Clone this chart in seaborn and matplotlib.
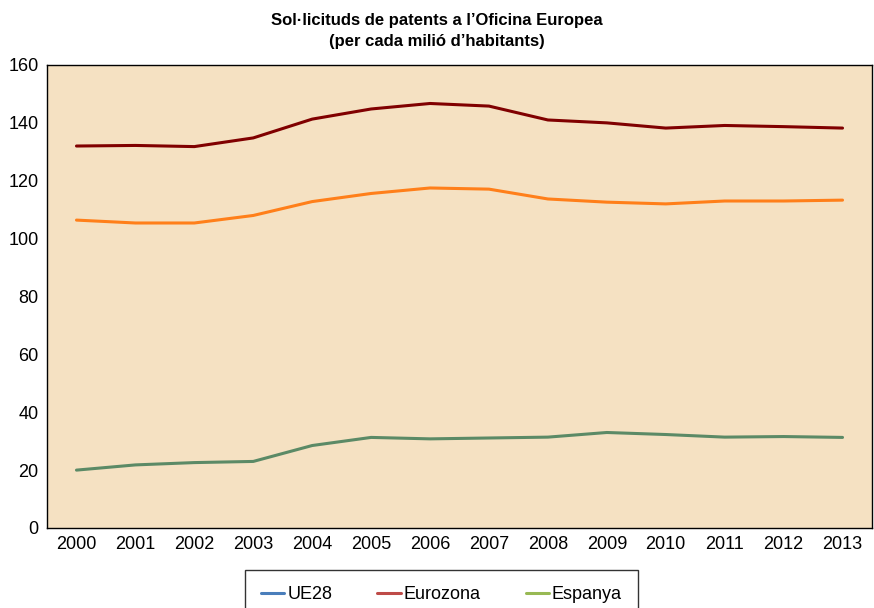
import matplotlib
matplotlib.use("Agg")
import matplotlib.pyplot as plt
from matplotlib.lines import Line2D
import seaborn as sns
import pandas as pd

# Data
years = list(range(2000, 2014))
eurozona = [132.0, 132.2, 131.8, 134.8, 141.3, 144.8, 146.7, 145.8, 141.0, 140.0, 138.2, 139.1, 138.7, 138.2]
ue28 = [106.4, 105.4, 105.4, 108.0, 112.8, 115.6, 117.5, 117.1, 113.7, 112.6, 112.0, 113.0, 113.0, 113.3]
espanya = [20.0, 21.8, 22.6, 23.0, 28.5, 31.3, 30.8, 31.1, 31.4, 33.0, 32.3, 31.4, 31.6, 31.3]

series_names = ["UE28", "Eurozona", "Espanya"]
line_colors = {"UE28": "#ff7f1a", "Eurozona": "#800000", "Espanya": "#5b8a66"}
legend_colors = ["#4a7ebb", "#be4b48", "#98b954"]

df = pd.DataFrame({
    "year": years * 3,
    "value": ue28 + eurozona + espanya,
    "serie": ["UE28"] * len(years) + ["Eurozona"] * len(years) + ["Espanya"] * len(years),
})

sns.set_style("white")
plt.rcParams["font.family"] = ["Liberation Sans", "DejaVu Sans"]
plt.rcParams["text.color"] = "black"
plt.rcParams["xtick.color"] = "black"
plt.rcParams["ytick.color"] = "black"

fig = plt.figure(figsize=(8.74, 6.08), dpi=100)
ax = fig.add_axes([0.0538, 0.1316, 0.9439, 0.7615])
ax.set_facecolor("#f5e1c2")

sns.lineplot(data=df, x="year", y="value", hue="serie", palette=line_colors,
             linewidth=2.2, ax=ax, legend=False)

ax.set_xlim(1999.5, 2013.5)
ax.set_ylim(0, 160)
ax.set_xticks(years)
ax.set_xticklabels([str(y) for y in years])
ax.set_yticks(range(0, 161, 20))
ax.tick_params(axis="both", labelsize=13, length=0, pad=6, colors="black")
ax.set_xlabel("")
ax.set_ylabel("")
for sp in ax.spines.values():
    sp.set_visible(True)
    sp.set_color("black")
    sp.set_linewidth(1.0)

fig.text(0.5, 0.949, "Sol·licituds de patents a l’Oficina Europea\n(per cada milió d’habitants)",
         ha="center", va="center", fontsize=12, fontweight="bold", color="black",
         family=["Liberation Sans Narrow", "Liberation Sans", "DejaVu Sans"], linespacing=1.55)

handles = [Line2D([0], [0], color=c, linewidth=2.2) for c in legend_colors]
leg = fig.legend(handles, series_names, loc="upper center", bbox_to_anchor=(0.505, 0.063),
                 ncol=3, fontsize=13, frameon=True, fancybox=False, handlelength=1.3,
                 handletextpad=0.15, columnspacing=2.5, borderpad=0.9, borderaxespad=0)
leg.get_frame().set_edgecolor("black")
leg.get_frame().set_linewidth(1.0)
leg.get_frame().set_facecolor("white")

fig.savefig("out.png", dpi=100)
